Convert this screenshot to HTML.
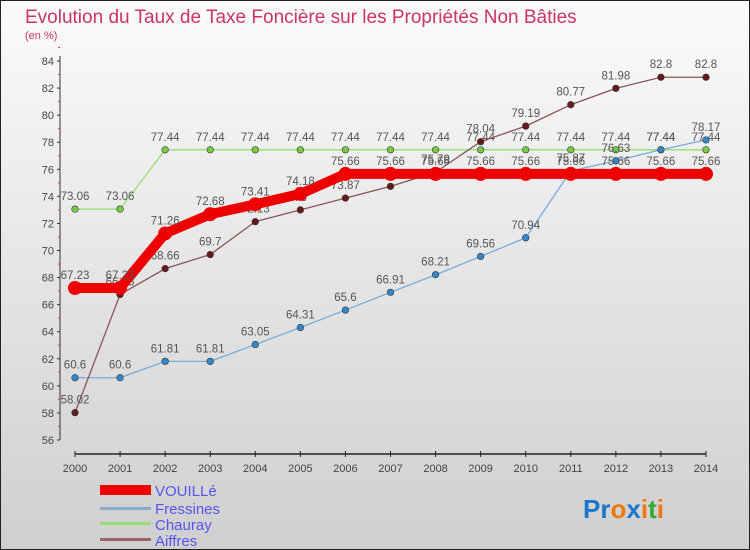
<!DOCTYPE html>
<html><head><meta charset="utf-8"><style>
body{margin:0;width:750px;height:550px;overflow:hidden;font-family:"Liberation Sans",sans-serif}
svg{display:block}
</style></head><body>
<svg id="c" width="750" height="550" xmlns="http://www.w3.org/2000/svg">
<defs><linearGradient id="bg" x1="0" y1="0" x2="0" y2="1"><stop offset="0" stop-color="#fbfbfb"/><stop offset="1" stop-color="#cfcfcf"/></linearGradient></defs>
<rect x="0.5" y="0.5" width="749" height="549" fill="url(#bg)" stroke="#222"/>
<text x="25" y="23" font-size="19" fill="#cc3366">Evolution du Taux de Taxe Foncière sur les Propriétés Non Bâties</text>
<text x="25" y="39" font-size="11" fill="#cc3366">(en %)</text>
<g id="axes"></g><g id="series"></g>
<g>
<rect x="100" y="485" width="51" height="10" fill="#ee0000"/>
<text x="155" y="496" font-size="15" fill="#5555ee">VOUILLé</text>
<rect x="100" y="507" width="51" height="3" fill="#88aacc"/>
<text x="155" y="514" font-size="15" fill="#5555ee">Fressines</text>
<rect x="100" y="522" width="51" height="3" fill="#99dd77"/>
<text x="155" y="530" font-size="15" fill="#5555ee">Chauray</text>
<rect x="100" y="538" width="51" height="3" fill="#996666"/>
<text x="155" y="546" font-size="15" fill="#5555ee">Aiffres</text>
</g>
<text x="583" y="518" font-size="26" font-weight="bold"><tspan fill="#1a77cc">Pr</tspan><tspan fill="#ee7711">o</tspan><tspan fill="#1a77cc">x</tspan><tspan fill="#ee7711">i</tspan><tspan fill="#33aa33">t</tspan><tspan fill="#ee7711">i</tspan></text>
</svg>
<script>
const years=[2000,2001,2002,2003,2004,2005,2006,2007,2008,2009,2010,2011,2012,2013,2014];
const yTicks=[56,58,60,62,64,66,68,70,72,74,76,78,80,82,84];
const vouille=[67.23,67.23,71.26,72.68,73.41,74.18,75.66,75.66,75.66,75.66,75.66,75.66,75.66,75.66,75.66];
const fressines=[60.6,60.6,61.81,61.81,63.05,64.31,65.6,66.91,68.21,69.56,70.94,75.87,76.63,77.44,78.17];
const chauray=[73.06,73.06,77.44,77.44,77.44,77.44,77.44,77.44,77.44,77.44,77.44,77.44,77.44,77.44,77.44];
const aiffres=[58.02,66.75,68.66,69.7,72.13,73,73.87,74.74,75.79,78.04,79.19,80.77,81.98,82.8,82.8];
const NS="http://www.w3.org/2000/svg";
const x=i=>75+i*(706-75)/14;
const y=v=>440-(v-56)*(440-61)/28;
function mk(p,t,a){const e=document.createElementNS(NS,t);for(const k in a)e.setAttribute(k,a[k]);p.appendChild(e);return e;}
const ax=document.getElementById('axes');
const yl=mk(ax,'line',{x1:60,y1:56,x2:60,y2:440,stroke:'#333'});


const xl=mk(ax,'line',{x1:75,y1:454,x2:706,y2:454,stroke:'#222','stroke-width':1.5});


yTicks.forEach(v=>{
 mk(ax,'line',{x1:57,y1:y(v),x2:60,y2:y(v),stroke:'#333'});
 mk(ax,'line',{x1:58,y1:y(v+1),x2:60,y2:y(v+1),stroke:'#e33'});
 const t=mk(ax,'text',{x:54,y:y(v)+4,'font-size':11,'text-anchor':'end',fill:'#444'});t.textContent=v;
 
 
});
years.forEach((yr,i)=>{
 mk(ax,'line',{x1:x(i),y1:451,x2:x(i),y2:457,stroke:'#222'});
 const t=mk(ax,'text',{x:x(i),y:472,'font-size':11,'text-anchor':'middle',fill:'#444'});t.textContent=yr;
 
 
});
const sg=document.getElementById('series');
function series(name,data,color,w,r,dot){
 const g=mk(sg,'g',{});
 
 
 mk(g,'polyline',{points:data.map((v,i)=>x(i)+','+y(v)).join(' '),fill:'none',stroke:color,'stroke-width':w,'stroke-linejoin':'round'});
 data.forEach((v,i)=>{
  const c=mk(g,'circle',{cx:x(i),cy:y(v),r:r,fill:dot,stroke:'#333','stroke-width':r>5?0:0.6});
  
  
  const t=mk(g,'text',{x:x(i),y:y(v)-9,'font-size':11.5,'text-anchor':'middle',fill:'#555'});
  t.textContent=v;
  
  
 });
}
series('chauray',chauray,'#99dd77',1.3,3.3,'#77cc44');
series('fressines',fressines,'#77aadd',1.3,3.3,'#3388cc');
series('aiffres',aiffres,'#885555',1.3,3.3,'#661a1a');
series('vouille',vouille,'#ee0000',10,7,'#ee0000');
</script>
</body></html>
